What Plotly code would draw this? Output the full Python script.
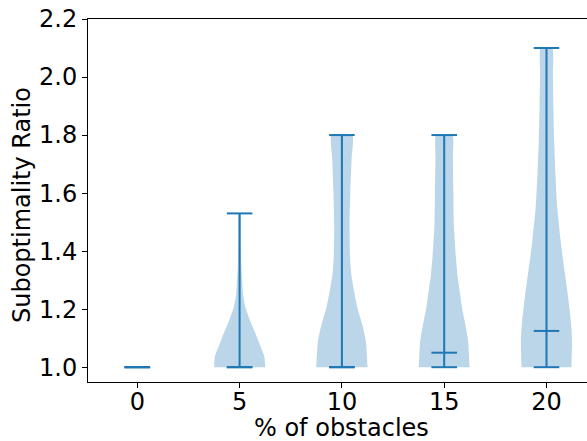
import plotly.graph_objects as go

# ---- data ----
positions = [0, 5, 10, 15, 20]
mins = [1.0, 1.0, 1.0, 1.0, 1.0]
maxs = [1.0, 1.53, 1.80, 1.80, 2.10]
medians = [1.0, 1.0, 1.0, 1.05, 1.125]

# violin outlines: value levels and relative half-width (1 = widest)
prof_5_y = [1.0, 1.036, 1.071, 1.117, 1.163, 1.209, 1.255, 1.301, 1.347, 1.463, 1.53]
prof_5_w = [1.0, 0.97, 0.82, 0.62, 0.40, 0.22, 0.13, 0.10, 0.07, 0.05, 0.04]

prof_10_y = [1.0, 1.008, 1.088, 1.146, 1.203, 1.26, 1.318, 1.376, 1.49, 1.605, 1.72, 1.80]
prof_10_w = [1.0, 1.0, 0.94, 0.80, 0.61, 0.48, 0.37, 0.32, 0.30, 0.33, 0.38, 0.41]

prof_15_y = [1.0, 1.008, 1.088, 1.146, 1.203, 1.26, 1.318, 1.376, 1.49, 1.605, 1.72, 1.80]
prof_15_w = [1.0, 0.99, 0.94, 0.83, 0.70, 0.61, 0.52, 0.46, 0.38, 0.36, 0.34, 0.32]

prof_20_y = [1.0, 1.008, 1.094, 1.152, 1.209, 1.266, 1.324, 1.381, 1.439, 1.553,
             1.668, 1.783, 1.898, 2.013, 2.10]
prof_20_w = [0.98, 0.98, 1.0, 0.96, 0.89, 0.81, 0.72, 0.63, 0.55, 0.42,
             0.35, 0.30, 0.27, 0.25, 0.23]

profiles = {5: (prof_5_y, prof_5_w), 10: (prof_10_y, prof_10_w),
            15: (prof_15_y, prof_15_w), 20: (prof_20_y, prof_20_w)}

x_ticks = [0, 5, 10, 15, 20]
y_ticks = [1.0, 1.2, 1.4, 1.6, 1.8, 2.0, 2.2]

# ---- style ----
HALF_W = 1.25      # max half width of a violin (x units)
CAP_HALF = 0.625   # half width of the cap lines
BLUE = "#1f77b4"
FILL = "rgba(31,119,180,0.3)"
FONT = "DejaVu Sans"
FS = 24

fig = go.Figure()

for pos, (ys, ws) in profiles.items():
    xs_r = [pos + w * HALF_W for w in ws]
    xs_l = [pos - w * HALF_W for w in ws][::-1]
    fig.add_trace(go.Scatter(
        x=xs_r + xs_l, y=ys + ys[::-1], mode="lines", fill="toself",
        fillcolor=FILL, line=dict(width=0, shape="spline", smoothing=0.5),
        hoverinfo="skip", showlegend=False))

lx, ly = [], []
for pos, lo, hi, med in zip(positions, mins, maxs, medians):
    lx += [pos, pos, None]
    ly += [lo, hi, None]
    for v in (lo, hi, med):
        lx += [pos - CAP_HALF, pos + CAP_HALF, None]
        ly += [v, v, None]
fig.add_trace(go.Scatter(x=lx, y=ly, mode="lines",
                         line=dict(color=BLUE, width=2),
                         hoverinfo="skip", showlegend=False))

fig.update_layout(
    width=587, height=441,
    margin=dict(l=88, r=0, t=19, b=59),
    paper_bgcolor="white", plot_bgcolor="white",
    font=dict(family=FONT, size=FS, color="black"),
    xaxis=dict(range=[-2.41, 21.98], tickvals=x_ticks,
               ticktext=[str(v) for v in x_ticks],
               showgrid=False, zeroline=False,
               showline=True, linecolor="black", linewidth=1, mirror=True,
               ticks="outside", ticklen=5, tickcolor="black", tickwidth=1,
               ticklabelstandoff=-7),
    yaxis=dict(range=[0.949, 2.2], tickvals=y_ticks,
               ticktext=[f"{v:.1f}" for v in y_ticks],
               showgrid=False, zeroline=False,
               showline=True, linecolor="black", linewidth=1,
               ticks="outside", ticklen=5, tickcolor="black", tickwidth=1),
    annotations=[
        dict(text="% of obstacles", x=10, xref="x", y=0, yref="paper",
             yanchor="middle", yshift=-46, showarrow=False,
             font=dict(family=FONT, size=FS, color="black")),
        dict(text="Suboptimality Ratio", x=0, xref="paper", xanchor="center",
             xshift=-66, y=0.4876, yref="paper", yanchor="middle",
             textangle=-90, showarrow=False,
             font=dict(family=FONT, size=FS, color="black")),
    ],
)

fig.write_html("out.html")
